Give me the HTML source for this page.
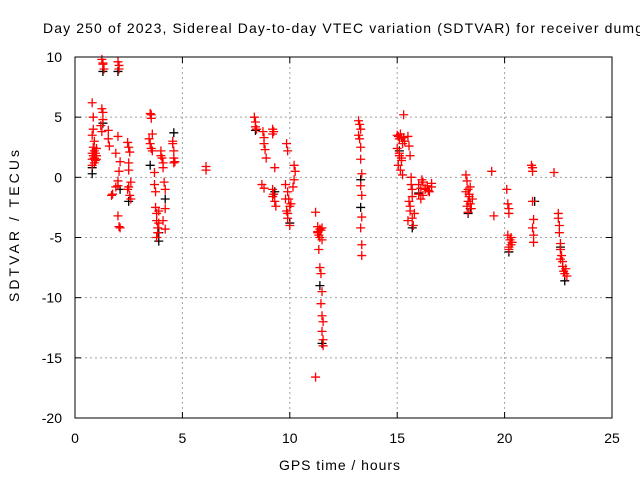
<!DOCTYPE html>
<html><head><meta charset="utf-8"><style>
html,body{margin:0;padding:0;background:#fff;}
svg{display:block;font-family:"Liberation Sans",Arial,sans-serif;}
</style></head><body>
<svg id="chart" width="640" height="480" viewBox="0 0 640 480">
<rect width="640" height="480" fill="#fff"/>
<text x="43" y="33" font-size="14" textLength="600" lengthAdjust="spacing" fill="#000">Day 250 of 2023, Sidereal Day-to-day VTEC variation (SDTVAR) for receiver dumg</text>
<g id="grid"></g>
<g id="axes"></g>
<g id="blackpts"></g>
<g id="redpts"></g>
<rect x="75" y="57" width="537" height="361" fill="none" stroke="#000" stroke-width="1"/>
<text x="279" y="470" font-size="14" textLength="121" lengthAdjust="spacing">GPS time / hours</text>
<text transform="translate(19,302) rotate(-90)" font-size="14" textLength="152" lengthAdjust="spacing">SDTVAR / TECUs</text>
</svg>
<script>
const xTicks=[0,5,10,15,20,25];
const yTicks=[10,5,0,-5,-10,-15,-20];
const redX=[0.8,0.8,0.8,0.8,0.85,0.85,0.85,0.9,0.9,0.9,0.9,0.95,0.95,1.0,1.0,1.0,0.8,0.85,
1.25,1.3,1.3,1.35,1.25,1.3,1.3,1.2,1.25,
1.55,1.55,1.6,
2.0,2.05,2.05,
1.7,1.75,1.9,2.0,2.0,1.9,2.1,2.05,2.0,2.1,2.05,2.0,
2.45,2.5,2.55,2.5,2.5,2.6,2.45,2.55,2.6,2.5,
3.5,3.55,3.55,3.6,3.45,3.5,3.6,3.55,3.7,3.7,3.75,3.8,3.8,3.85,3.9,3.9,3.85,3.8,3.75,
4.0,4.05,4.1,4.1,4.15,4.2,4.2,4.0,4.1,4.2,
4.55,4.6,4.6,4.65,4.55,4.6,
6.1,6.1,
8.35,8.4,8.4,8.45,
8.75,8.8,8.8,8.85,8.9,8.7,8.8,
9.2,9.2,9.25,9.3,9.2,9.25,9.3,9.35,9.2,
9.85,9.9,9.8,9.9,9.95,10.0,9.85,9.9,10.0,10.05,9.8,9.9,
10.2,10.25,10.2,10.15,
11.2,11.3,11.3,11.35,11.4,11.45,11.5,11.35,11.4,11.45,11.5,11.45,11.5,11.55,11.5,11.55,11.55,11.5,11.2,11.3,11.4,
13.2,13.25,13.3,13.2,13.25,13.3,13.3,13.35,13.3,13.35,13.35,13.3,13.35,13.35,
15.0,15.05,15.1,15.15,15.2,15.25,15.3,15.0,15.1,15.2,15.35,15.05,15.15,15.25,15.1,15.2,15.3,
15.5,15.55,15.6,15.65,15.7,15.55,15.6,15.7,15.75,15.65,15.6,15.7,15.8,15.5,
16.0,16.1,16.2,16.3,16.4,16.5,16.6,16.0,16.15,16.3,16.45,16.6,16.2,16.1,
18.2,18.25,18.3,18.35,18.4,18.45,18.2,18.3,18.4,18.5,18.25,18.35,18.3,
19.4,19.5,
20.1,20.15,20.2,20.2,20.15,20.25,20.3,20.2,20.3,20.35,20.2,
21.25,21.3,21.3,21.35,21.3,21.35,21.35,21.3,
22.3,
22.5,22.5,22.55,22.55,22.6,22.6,22.65,22.7,22.7,22.75,22.8,22.85,22.9,22.6];
const redY=[2.0,1.5,1.0,3.5,2.5,1.8,4.0,2.2,1.6,1.2,3.0,2.0,1.4,1.8,2.4,1.5,6.2,5.0,
9.8,9.4,9.5,9.0,5.7,5.4,4.8,4.3,3.8,
3.9,3.2,2.6,
9.6,9.3,9.0,
-1.5,-1.4,-0.8,-0.7,3.4,2.0,1.3,0.5,-3.2,-4.2,-4.1,-0.3,
2.9,2.5,2.1,1.2,0.6,-0.4,-1.0,-1.5,-1.8,-0.8,
5.3,5.2,4.9,3.6,3.2,2.8,2.2,2.4,0.4,-0.6,-2.5,-3.0,-3.6,-4.2,-3.8,-2.8,-4.6,-5.0,-1.2,
2.2,1.6,1.2,0.8,-0.4,-1.0,-2.6,1.8,-3.6,-4.3,
3.0,2.2,1.6,1.3,2.8,1.2,
0.9,0.6,
5.0,4.6,4.2,4.0,
3.8,3.3,2.8,2.3,1.6,-0.6,-0.9,
4.0,3.6,3.8,0.8,-1.0,-1.4,-2.0,-2.4,-1.6,
2.8,2.2,-0.6,-1.2,-1.8,-2.4,-2.8,-3.4,-4.0,-2.2,-1.8,-3.0,
1.0,0.5,-0.2,-0.8,
-2.9,-4.1,-4.5,-4.8,-5.0,-4.4,-4.2,-6.0,-7.5,-8.0,-9.5,-10.5,-11.5,-12.0,-12.8,-13.5,-14.0,-5.2,-16.6,-4.6,-4.3,
4.7,4.4,4.0,3.5,3.2,2.5,1.5,0.3,-0.7,-1.5,-3.3,-4.2,-5.6,-6.5,
3.5,3.4,3.2,3.6,3.3,2.8,5.2,2.4,2.0,1.6,3.0,1.0,0.6,0.2,1.8,1.4,3.3,
3.4,2.6,1.8,0.0,-1.0,-2.0,-2.8,-3.4,-4.0,-0.6,-2.4,-1.6,-3.0,-3.6,
-0.6,-0.9,-0.4,-1.0,-0.7,-1.2,-0.8,-1.4,-0.2,-0.9,-1.1,-0.5,-1.5,-1.8,
0.2,-0.3,-1.0,-1.6,-2.2,-2.6,-1.2,-2.0,-0.8,-1.8,-2.4,-1.4,-2.9,
0.5,-3.2,
-1.0,-2.2,-2.6,-3.0,-4.8,-5.2,-5.6,-5.8,-5.0,-5.4,-6.0,
1.0,0.8,0.5,-3.5,-4.2,-4.8,-5.4,-2.0,
0.4,
-3.0,-3.4,-4.0,-4.6,-5.5,-6.0,-6.5,-7.0,-7.4,-7.8,-8.0,-7.6,-8.2,-6.8];
const blackX=[0.8,0.8,1.3,1.3,2.0,2.1,2.5,3.5,3.9,3.9,4.6,4.2,8.4,9.3,10.0,11.4,11.5,13.3,13.3,15.1,15.7,16.0,18.3,18.4,20.2,21.4,22.8,22.6];
const blackY=[0.3,0.8,8.8,4.5,8.8,-1.0,-2.0,1.0,-5.3,-4.6,3.7,-1.8,3.9,-1.2,-3.8,-9.0,-13.8,-2.5,-0.2,2.2,-4.2,-1.3,-3.0,-2.6,-6.2,-2.0,-8.6,-5.8];

const X0=75,X1=612,Y0=418,Y1=57;
const sx=v=>X0+(v-0)/25*(X1-X0);
const sy=v=>Y0-(v+20)/30*(Y0-Y1);
const NS='http://www.w3.org/2000/svg';
const grid=document.getElementById('grid'),axes=document.getElementById('axes');
function mk(tag,attrs,parent){const e=document.createElementNS(NS,tag);for(const k in attrs)e.setAttribute(k,attrs[k]);parent.appendChild(e);return e;}
xTicks.forEach(t=>{const x=sx(t);
 if(t>0&&t<25){const g=mk('line',{x1:x,x2:x,y1:Y1,y2:Y0,stroke:'#a0a0a0','stroke-dasharray':'2,3'},grid);
 
 }
 mk('line',{x1:x,x2:x,y1:Y0,y2:Y0-6,stroke:'#000'},axes);
 mk('line',{x1:x,x2:x,y1:Y1,y2:Y1+6,stroke:'#000'},axes);
 const l=mk('text',{x:x,y:Y0+25,'font-size':14,'text-anchor':'middle'},axes);l.textContent=t;
 
 
});
yTicks.forEach(t=>{const y=sy(t);
 if(t>-20&&t<10){const g=mk('line',{x1:X0,x2:X1,y1:y,y2:y,stroke:'#a0a0a0','stroke-dasharray':'2,3'},grid);
 
 }
 mk('line',{x1:X0,x2:X0+6,y1:y,y2:y,stroke:'#000'},axes);
 mk('line',{x1:X1,x2:X1-6,y1:y,y2:y,stroke:'#000'},axes);
 const l=mk('text',{x:X0-13,y:y+5,'font-size':14,'text-anchor':'end'},axes);l.textContent=t;
 
 
});
function plus(xs,ys,color,parent,name){
 for(let i=0;i<xs.length;i++){const x=sx(xs[i]),y=sy(ys[i]);
  const p=mk('path',{d:`M${x-4.5},${y}H${x+4.5}M${x},${y-4.5}V${y+4.5}`,stroke:color,'stroke-width':1.3,fill:'none'},parent);
  
  
 }
}
plus(blackX,blackY,'#000',document.getElementById('blackpts'),'black-point');
plus(redX,redY,'#ff0000',document.getElementById('redpts'),'red-point');
</script>
</body></html>
